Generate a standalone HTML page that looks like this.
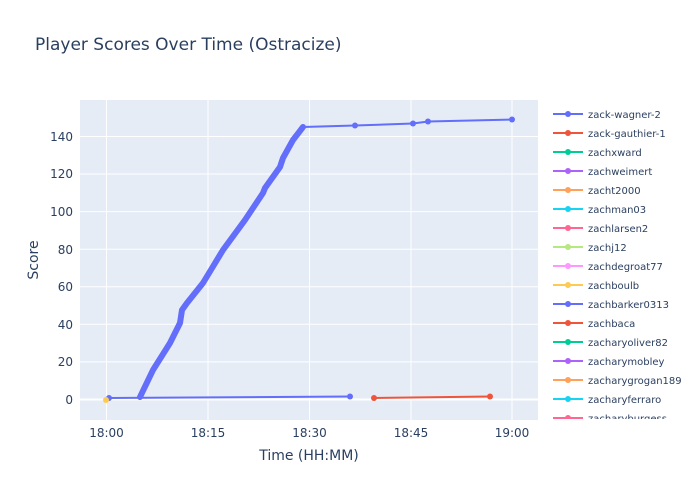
<!DOCTYPE html>
<html><head><meta charset="utf-8"><style>
body{margin:0;background:#fff}
svg{display:block;font-family:"DejaVu Sans","Liberation Sans",sans-serif}
</style></head><body>
<svg width="700" height="500" xmlns="http://www.w3.org/2000/svg">
<rect width="700" height="500" fill="#fff"/>
<text x="35" y="50" font-size="17" fill="#2a3f5f">Player Scores Over Time (Ostracize)</text>
<rect x="80" y="100" width="458" height="320" fill="#e5ecf6"/>
<g stroke="#fff" stroke-width="1">
<line x1="80" x2="538" y1="361.9" y2="361.9"/><line x1="80" x2="538" y1="324.3" y2="324.3"/>
<line x1="80" x2="538" y1="286.7" y2="286.7"/><line x1="80" x2="538" y1="249.2" y2="249.2"/>
<line x1="80" x2="538" y1="211.6" y2="211.6"/><line x1="80" x2="538" y1="174" y2="174"/>
<line x1="80" x2="538" y1="136.5" y2="136.5"/>
<line x1="106.5" x2="106.5" y1="100" y2="420"/><line x1="208" x2="208" y1="100" y2="420"/>
<line x1="309.5" x2="309.5" y1="100" y2="420"/><line x1="411" x2="411" y1="100" y2="420"/>
<line x1="512" x2="512" y1="100" y2="420"/>
</g>
<line x1="80" x2="538" y1="399.5" y2="399.5" stroke="#fff" stroke-width="2"/>
<g font-size="12" fill="#2a3f5f" text-anchor="end">
<text x="73" y="404">0</text><text x="73" y="366">20</text><text x="73" y="329">40</text>
<text x="73" y="291">60</text><text x="73" y="254">80</text><text x="73" y="216">100</text>
<text x="73" y="178">120</text><text x="73" y="141">140</text>
</g>
<g font-size="12" fill="#2a3f5f" text-anchor="middle">
<text x="106.5" y="437">18:00</text><text x="208" y="437">18:15</text><text x="309.5" y="437">18:30</text>
<text x="411" y="437">18:45</text><text x="512" y="437">19:00</text>
</g>
<text x="309" y="460" font-size="14" fill="#2a3f5f" text-anchor="middle">Time (HH:MM)</text>
<text transform="translate(38,260) rotate(-90)" font-size="14" fill="#2a3f5f" text-anchor="middle">Score</text>
<!-- lower blue -->
<polyline points="109,398 350,396.5" fill="none" stroke="#636efa" stroke-width="2"/>
<circle cx="109" cy="398" r="3" fill="#636efa"/><circle cx="350" cy="396.5" r="3" fill="#636efa"/>
<!-- red -->
<polyline points="374,398 490,396.5" fill="none" stroke="#ef553b" stroke-width="2"/>
<circle cx="374" cy="398" r="3" fill="#ef553b"/><circle cx="490" cy="396.5" r="3" fill="#ef553b"/>
<!-- main blue -->
<polyline points="140,398 140,397 153,370 170,343 180,323 182,310 187,303 203,283 223,250 245,220 263,193 265,188 280,167 283,158 293,140 303,127 355,125.5 413,123.5 428,121.5 512,119.5" fill="none" stroke="#636efa" stroke-width="2"/>
<polyline points="140,397 153,370 170,343 180,323 182,310 187,303 203,283 223,250 245,220 263,193 265,188 280,167 283,158 293,140 303,127" fill="none" stroke="#636efa" stroke-width="6" stroke-linecap="round" stroke-linejoin="round"/>
<g fill="#636efa"><circle cx="355" cy="125.5" r="3"/><circle cx="413" cy="123.5" r="3"/><circle cx="428" cy="121.5" r="3"/><circle cx="512" cy="119.5" r="3"/></g>
<circle cx="106" cy="400" r="3" fill="#fecb52"/>
<!-- legend -->
<g font-size="10" fill="#2a3f5f">
<g stroke-width="2">
<line x1="553" x2="583" y1="114" y2="114" stroke="#636efa"/><line x1="553" x2="583" y1="133" y2="133" stroke="#ef553b"/>
<line x1="553" x2="583" y1="152" y2="152" stroke="#00cc96"/><line x1="553" x2="583" y1="171" y2="171" stroke="#ab63fa"/>
<line x1="553" x2="583" y1="190" y2="190" stroke="#ffa15a"/><line x1="553" x2="583" y1="209" y2="209" stroke="#19d3f3"/>
<line x1="553" x2="583" y1="228" y2="228" stroke="#ff6692"/><line x1="553" x2="583" y1="247" y2="247" stroke="#b6e880"/>
<line x1="553" x2="583" y1="266" y2="266" stroke="#ff97ff"/><line x1="553" x2="583" y1="285" y2="285" stroke="#fecb52"/>
<line x1="553" x2="583" y1="304" y2="304" stroke="#636efa"/><line x1="553" x2="583" y1="323" y2="323" stroke="#ef553b"/>
<line x1="553" x2="583" y1="342" y2="342" stroke="#00cc96"/><line x1="553" x2="583" y1="361" y2="361" stroke="#ab63fa"/>
<line x1="553" x2="583" y1="380" y2="380" stroke="#ffa15a"/><line x1="553" x2="583" y1="399" y2="399" stroke="#19d3f3"/>
</g>
<circle cx="568" cy="114" r="3" fill="#636efa"/><circle cx="568" cy="133" r="3" fill="#ef553b"/>
<circle cx="568" cy="152" r="3" fill="#00cc96"/><circle cx="568" cy="171" r="3" fill="#ab63fa"/>
<circle cx="568" cy="190" r="3" fill="#ffa15a"/><circle cx="568" cy="209" r="3" fill="#19d3f3"/>
<circle cx="568" cy="228" r="3" fill="#ff6692"/><circle cx="568" cy="247" r="3" fill="#b6e880"/>
<circle cx="568" cy="266" r="3" fill="#ff97ff"/><circle cx="568" cy="285" r="3" fill="#fecb52"/>
<circle cx="568" cy="304" r="3" fill="#636efa"/><circle cx="568" cy="323" r="3" fill="#ef553b"/>
<circle cx="568" cy="342" r="3" fill="#00cc96"/><circle cx="568" cy="361" r="3" fill="#ab63fa"/>
<circle cx="568" cy="380" r="3" fill="#ffa15a"/><circle cx="568" cy="399" r="3" fill="#19d3f3"/>
<text x="588" y="118">zack-wagner-2</text><text x="588" y="137">zack-gauthier-1</text>
<text x="588" y="156">zachxward</text><text x="588" y="175">zachweimert</text>
<text x="588" y="194">zacht2000</text><text x="588" y="213">zachman03</text>
<text x="588" y="232">zachlarsen2</text><text x="588" y="251">zachj12</text>
<text x="588" y="270">zachdegroat77</text><text x="588" y="289">zachboulb</text>
<text x="588" y="308">zachbarker0313</text><text x="588" y="327">zachbaca</text>
<text x="588" y="346">zacharyoliver82</text><text x="588" y="365">zacharymobley</text>
<text x="588" y="384">zacharygrogan189</text><text x="588" y="403">zacharyferraro</text>
<svg x="540" y="410" width="160" height="9" overflow="hidden">
<line x1="13" x2="43" y1="8" y2="8" stroke="#ff6692" stroke-width="2"/><circle cx="28" cy="8" r="3" fill="#ff6692"/>
<text x="48" y="12" font-size="10" fill="#2a3f5f">zacharyburgess</text>
</svg>
</g>
</svg>
</body></html>
